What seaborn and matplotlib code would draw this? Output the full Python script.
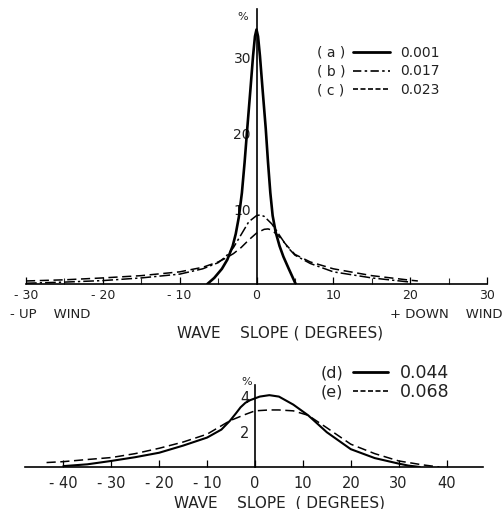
import matplotlib
matplotlib.use("Agg")
import numpy as np
import pandas as pd
import matplotlib.pyplot as plt
from matplotlib.lines import Line2D
import seaborn as sns

# upper panel: slope distributions (a)-(c), in %
a_x = [-6.4, -5.5, -4.5, -3.8, -3.1, -2.7, -2.3, -1.9, -1.55, -1.2, -0.8, -0.45, -0.2, 0,
       0.2, 0.45, 0.8, 1.2, 1.5, 1.8, 2.1, 2.5, 3.0, 3.5, 4.2, 5.1]
a_y = [0, 0.8, 2.0, 3.2, 5.0, 6.6, 8.8, 12, 16, 20.5, 25.5, 30, 32.6, 33.5,
       32.6, 30, 25.5, 20.5, 16, 12, 9, 6.8, 5.0, 3.6, 2.0, 0]

b_x = [-30, -25, -20, -15, -10, -7, -5, -4, -3, -2, -1, 0, 0.5, 1, 2, 3, 4, 5, 7, 10, 15, 20]
b_y = [0.1, 0.25, 0.45, 0.8, 1.3, 2.0, 2.8, 3.6, 4.8, 6.5, 8.2, 9.0, 9.1, 8.9, 7.9, 6.4,
       4.9, 3.8, 2.7, 1.6, 0.8, 0.25]

c_x = [-30, -25, -20, -15, -10, -7, -5, -4, -3, -2, -1, 0, 1, 1.5, 2, 3, 4, 5, 7, 10, 15, 20, 21]
c_y = [0.4, 0.55, 0.8, 1.1, 1.6, 2.2, 2.9, 3.4, 4.0, 4.8, 5.8, 6.7, 7.2, 7.25, 7.1, 6.2,
       5.0, 3.9, 2.9, 2.0, 1.1, 0.5, 0.4]

# lower panel: (d), (e)
d_x = [-40, -35, -30, -25, -20, -15, -10, -7, -5.2, -4, -3, -2, -1, 0, 1, 3, 5, 8, 11.1,
       15, 20, 25, 30, 32, 34.4]
d_y = [0.05, 0.15, 0.34, 0.55, 0.8, 1.2, 1.65, 2.1, 2.6, 3.0, 3.35, 3.6, 3.75, 3.85, 3.95,
       4.03, 3.95, 3.5, 2.9, 1.95, 1.0, 0.5, 0.19, 0.08, 0.0]

e_x = [-43.5, -40, -35, -30, -25, -20, -15, -10, -5.2, -2, 0, 3, 5, 8, 11.1, 15, 20, 25, 30, 35, 38.5]
e_y = [0.25, 0.3, 0.42, 0.53, 0.75, 1.05, 1.4, 1.84, 2.6, 2.95, 3.15, 3.2, 3.2, 3.15, 2.9,
       2.2, 1.28, 0.75, 0.34, 0.12, 0.0]

top_labels = ["( a )", "( b )", "( c )"]
top_values = ["0.001", "0.017", "0.023"]
bot_labels = ["(d)", "(e)"]
bot_values = ["0.044", "0.068"]

top_xticks = [-30, -20, -10, 0, 10, 20, 30]
top_xticklabels = ["- 30", "- 20", "- 10", "0", "10", "20", "30"]
top_yticks = [10, 20, 30]
bot_xticks = [-40, -30, -20, -10, 0, 10, 20, 30, 40]
bot_xticklabels = ["- 40", "- 30", "- 20", "- 10", "0", "10", "20", "30", "40"]
bot_yticks = [2, 4]

sns.set_theme(style="white")
plt.rcParams["font.family"] = ["DejaVu Sans"]

W, H = 504, 510
fig = plt.figure(figsize=(W / 100, H / 100), dpi=100)


def box(l, r, b, t):
    return [l / W, 1 - b / H, (r - l) / W, (b - t) / H]


ax1 = fig.add_axes(box(26, 487, 285, 10))
ax2 = fig.add_axes(box(25, 483, 468, 386))

styles = [(a_x, a_y, "-", 1.9), (b_x, b_y, (0, (7, 2, 1.5, 2)), 1.1), (c_x, c_y, (0, (6, 3)), 1.1)]
for xs, ys, ls, lw in styles:
    sns.lineplot(x=xs, y=ys, ax=ax1, color="black", linestyle=ls, linewidth=lw, sort=False)

styles2 = [(d_x, d_y, "-", 1.5), (e_x, e_y, (0, (6, 3)), 1.1)]
for xs, ys, ls, lw in styles2:
    sns.lineplot(x=xs, y=ys, ax=ax2, color="black", linestyle=ls, linewidth=lw, sort=False)

ax1.set_xlim(-30, 30)
ax1.set_ylim(0, 36.2)
ax2.set_xlim(-48, 47.6)
ax2.set_ylim(0, 4.6)

tc = "#222222"
for ax in (ax1, ax2):
    ax.patch.set_alpha(0)
    for s in ("top", "right"):
        ax.spines[s].set_visible(False)
    ax.spines["left"].set_position(("data", 0))
    ax.spines["left"].set_linewidth(1.2)
    ax.spines["bottom"].set_linewidth(1.2)
    ax.spines["left"].set_color("black")
    ax.spines["bottom"].set_color("black")
    ax.set_xlabel("")
    ax.set_ylabel("")
    ax.tick_params(axis="x", direction="in", length=5, width=0.9, colors="black",
                   labelsize=9, pad=3, bottom=True)
    ax.tick_params(axis="y", length=0, colors="black", labelsize=10, pad=4)

ax1.set_xticks(top_xticks)
ax1.set_xticklabels(top_xticklabels, color=tc)
ax1.set_xticks(np.arange(-25, 30, 10), minor=True)
ax1.tick_params(axis="x", which="minor", direction="in", length=4, width=0.8, bottom=True)
ax1.set_yticks(top_yticks)
ax1.set_yticklabels([str(v) for v in top_yticks], color=tc)

ax2.set_xticks(bot_xticks)
ax2.set_xticklabels(bot_xticklabels, color=tc)
ax2.set_yticks(bot_yticks)
ax2.set_yticklabels([str(v) for v in bot_yticks], color=tc)
ax2.tick_params(axis="x", labelsize=10.5, pad=6)
ax2.tick_params(axis="y", labelsize=10.5)

fig.text(243 / W, 1 - 17 / H, "%", ha="center", va="center", fontsize=8, color=tc)
fig.text(247 / W, 1 - 382 / H, "%", ha="center", va="center", fontsize=8, color=tc)

fig.text(10 / W, 1 - 315 / H, "- UP    WIND", ha="left", va="center", fontsize=9.5, color=tc)
fig.text(503 / W, 1 - 315 / H, "+ DOWN    WIND", ha="right", va="center", fontsize=9.5, color=tc)
fig.text(280 / W, 1 - 333 / H, "WAVE    SLOPE ( DEGREES)", ha="center", va="center",
         fontsize=11, color=tc)
fig.text(280 / W, 1 - 503 / H, "WAVE    SLOPE  ( DEGREES)", ha="center", va="center",
         fontsize=11, color=tc)

# legends drawn as text + short line samples
top_ls = ["-", (0, (5, 2, 1.5, 2)), (0, (3, 1.5))]
top_lw = [2.0, 1.2, 1.2]
for i, (lab, val) in enumerate(zip(top_labels, top_values)):
    y = 1 - (53 + 18.5 * i) / H
    fig.text(331 / W, y, lab, ha="center", va="center", fontsize=10, color=tc)
    fig.add_artist(Line2D([353 / W, 390 / W], [y, y], color="black", linestyle=top_ls[i],
                          linewidth=top_lw[i]))
    fig.text(400 / W, y, val, ha="left", va="center", fontsize=10, color=tc)

bot_ls = ["-", (0, (3, 1.5))]
bot_lw = [2.0, 1.2]
for i, (lab, val) in enumerate(zip(bot_labels, bot_values)):
    y = 1 - (373 + 19 * i) / H
    fig.text(332 / W, y, lab, ha="center", va="center", fontsize=11.5, color=tc)
    fig.add_artist(Line2D([353 / W, 388 / W], [y, y], color="black", linestyle=bot_ls[i],
                          linewidth=bot_lw[i]))
    fig.text(400 / W, y, val, ha="left", va="center", fontsize=12.5, color=tc)

fig.savefig("out.png", dpi=100, facecolor="white")
